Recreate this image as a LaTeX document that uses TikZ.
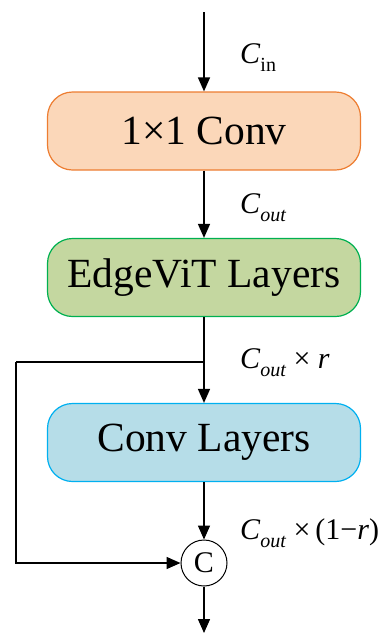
\documentclass[tikz,border=0pt]{standalone}
\usepackage{fontspec}
\setmainfont{Liberation Serif}
\usetikzlibrary{arrows.meta}
\definecolor{convfill}{RGB}{251,215,185}
\definecolor{convline}{RGB}{237,125,49}
\definecolor{vitfill}{RGB}{196,215,160}
\definecolor{vitline}{RGB}{0,176,80}
\definecolor{layfill}{RGB}{182,221,232}
\definecolor{layline}{RGB}{0,176,240}
\newcommand{\chsub}[1]{\raisebox{-8pt}{\fontsize{20}{20}\selectfont #1}}
\begin{document}
\begin{tikzpicture}[x=1pt,y=-1pt,
  blk/.style={draw, line width=1.2pt, rounded corners=25pt, minimum width=313pt,
    minimum height=78pt, inner sep=0pt, font=\fontsize{41.5}{41.5}\selectfont},
  flow/.style={line width=1.5pt, -{Triangle[length=14pt,width=12pt]}},
  wire/.style={line width=1.5pt},
  lbl/.style={anchor=base west, inner sep=0pt, font=\fontsize{30}{30}\selectfont}]
\useasboundingbox (0,0) rectangle (389,633);

% blocks
\node[blk, fill=convfill, draw=convline] (conv) at (204,131) {1×1 Conv};
\node[blk, fill=vitfill, draw=vitline] (vit) at (204,277.5) {EdgeViT Layers};
\node[blk, fill=layfill, draw=layline] (lay) at (204,442.5) {Conv Layers};
\node[circle, draw, line width=1pt, fill=white, minimum size=46pt, inner sep=0pt,
  font=\fontsize{30}{30}\selectfont] (cat) at (204,563) {C};

% connector end points
\coordinate (in) at (204,12);
\coordinate (split) at (204,362);
\coordinate (skip) at (16,362);
\coordinate (out) at (204,633);

% main flow
\draw[flow] (in) -- (conv.north);
\draw[flow] (conv.south) -- (vit.north);
\draw[flow] (vit.south) -- (lay.north);
\draw[flow] (lay.south) -- (cat.north);
\draw[flow] (cat.south) -- (out);
% skip branch into the concatenation
\draw[wire] (split) -- (skip);
\draw[flow] (skip) |- (cat.west);

% channel labels
\node[lbl] (lin) at (240,63) {\textit{C}\chsub{in}};
\node[lbl] (lout) at (240,213) {\textit{C}\chsub{\itshape out}};
\node[lbl] (lr) at (240,368) {\textit{C}\chsub{\itshape out} × \textit{r}};
\node[lbl] (lrr) at (240,539) {\textit{C}\chsub{\itshape out} ×\,(1−\textit{r})};
\end{tikzpicture}
\end{document}
